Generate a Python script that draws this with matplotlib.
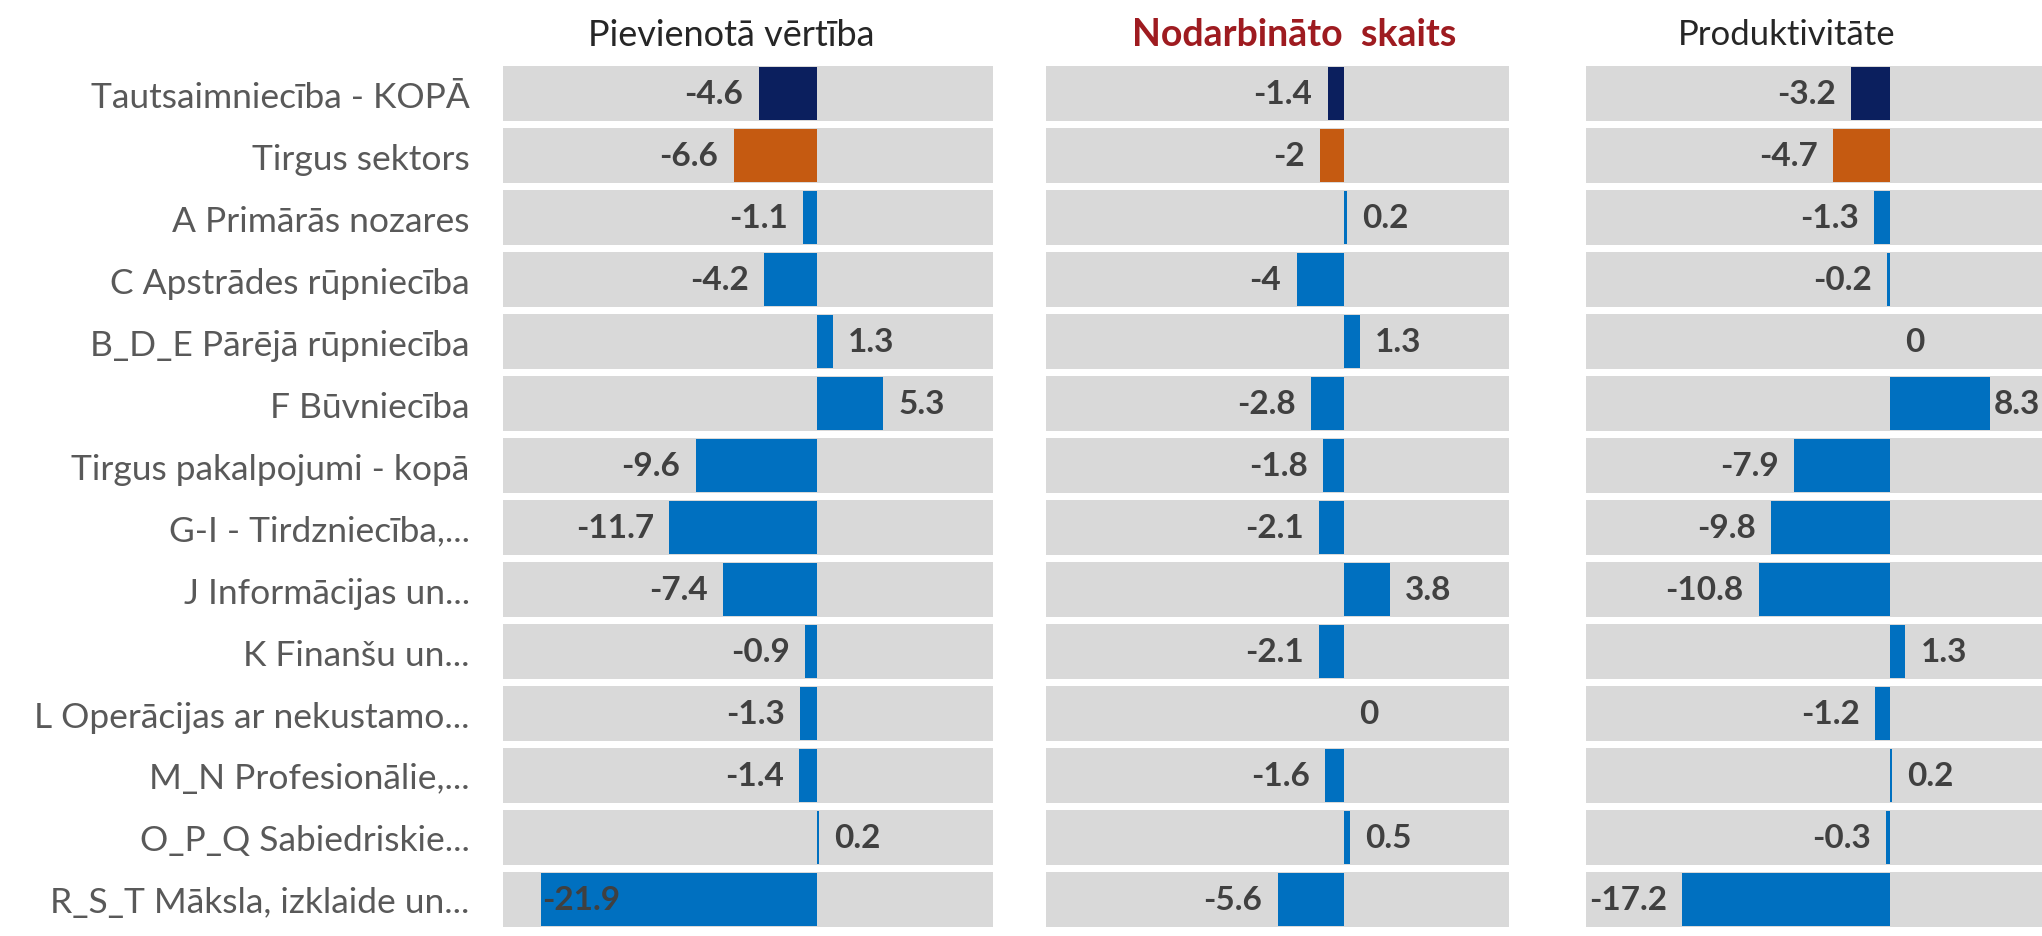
import matplotlib
matplotlib.use("Agg")
import matplotlib.pyplot as plt

plt.rcParams['font.family'] = ['Lato', 'DejaVu Sans']

# data
categories = ["Tautsaimniecība - KOPĀ", "Tirgus sektors", "A Primārās nozares",
              "C Apstrādes rūpniecība", "B_D_E Pārējā rūpniecība", "F Būvniecība",
              "Tirgus pakalpojumi - kopā", "G-I - Tirdzniecība,...",
              "J Informācijas un...", "K Finanšu un...",
              "L Operācijas ar nekustamo...", "M_N Profesionālie,...",
              "O_P_Q Sabiedriskie...", "R_S_T Māksla, izklaide un..."]
pievienota = [-4.6, -6.6, -1.1, -4.2, 1.3, 5.3, -9.6, -11.7, -7.4, -0.9, -1.3, -1.4, 0.2, -21.9]
nodarbinato = [-1.4, -2, 0.2, -4, 1.3, -2.8, -1.8, -2.1, 3.8, -2.1, 0, -1.6, 0.5, -5.6]
produktivitate = [-3.2, -4.7, -1.3, -0.2, 0, 8.3, -7.9, -9.8, -10.8, 1.3, -1.2, 0.2, -0.3, -17.2]
titles = ["Pievienotā vērtība", "Nodarbināto  skaits", "Produktivitāte"]

NAVY = "#0b1f5e"
ORANGE = "#c55a11"
BLUE = "#0070c0"
GREY = "#d9d9d9"
bar_colors = [NAVY, ORANGE] + [BLUE] * (len(categories) - 2)

W, H = 2042, 937
fig = plt.figure(figsize=(W / 100, H / 100), dpi=100)

# axes in pixels: (left, right, xlim)
panels = [(503, 993, (-24.9, 14.0)),
          (1046, 1509, (-25.0, 13.8)),
          (1586, 2042, (-25.1, 12.6))]
top_px, row_px = 63.5, 62.0
bottom_px = top_px + row_px * len(categories)

series = [pievienota, nodarbinato, produktivitate]
axes = []
labels = []
y = list(range(len(categories)))
for k, (l, r, xl) in enumerate(panels):
    ax = fig.add_axes([l / W, 1 - bottom_px / H, (r - l) / W, (bottom_px - top_px) / H])
    ax.set_xlim(*xl)
    ax.set_ylim(len(categories) - 0.5, -0.5)
    ax.barh(y, [xl[1] - xl[0]] * len(y), left=xl[0], height=0.885, color=GREY, zorder=0)
    vals = series[k]
    ax.barh(y, vals, height=0.86, color=bar_colors, zorder=1)
    for i, v in enumerate(vals):
        off = 11 if v >= 0 else -11
        t = ax.annotate(f"{v:g}", xy=(v, i), xytext=(off, 0), textcoords="offset points",
                        ha="left" if v >= 0 else "right", va="center",
                        fontsize=24, fontweight="bold", color="#404040", zorder=3)
        labels.append((ax, t, v))
    for s in ax.spines.values():
        s.set_visible(False)
    ax.set_xticks([])
    if k == 0:
        ax.set_yticks(y, categories)
        ax.tick_params(axis="y", length=0, pad=24, labelsize=25.5, labelcolor="#595959")
    else:
        ax.set_yticks([])
    axes.append(ax)

# titles
fig.text(731 / W, 1 - 35 / H, titles[0], ha="center", va="center", fontsize=26, color="#262626")
fig.text(1294 / W, 1 - 35 / H, titles[1], ha="center", va="center", fontsize=27,
         color="#9e1b20", fontweight="bold")
fig.text(1787 / W, 1 - 35 / H, titles[2], ha="center", va="center", fontsize=25, color="#262626")

# keep value labels inside the plot area (like Excel does)
fig.canvas.draw()
rend = fig.canvas.get_renderer()
px2pt = 72 / fig.dpi
for ax, t, v in labels:
    bb = t.get_window_extent(rend)
    ab = ax.get_window_extent(rend)
    ox = t.xyann[0]
    if bb.x0 < ab.x0 + 3:
        over = ab.x0 + 3 - bb.x0
        if over > bb.width / 2:
            t.set_ha("left")
            t.xyann = (1, 0)
        else:
            t.xyann = (ox + over * px2pt, 0)
    elif bb.x1 > ab.x1 - 2:
        over = bb.x1 - (ab.x1 - 2)
        t.xyann = (ox - over * px2pt, 0)

fig.savefig("out.png", dpi=100)
